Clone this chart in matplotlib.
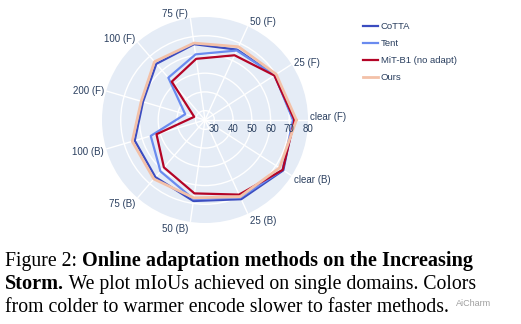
import matplotlib.pyplot as plt
import numpy as np

# mIoU per domain (radial axis) for each method
categories = ['clear (F)', '25 (F)', '50 (F)', '75 (F)', '100 (F)', '200 (F)',
              '100 (B)', '75 (B)', '50 (B)', '25 (B)', 'clear (B)']
cotta = [72.3, 69.3, 66.3, 65.9, 64.7, 59.5, 64.1, 65.4, 68.7, 71.5, 74.7]
tent = [72.0, 69.2, 65.8, 60.4, 54.9, 36.0, 55.2, 61.3, 67.7, 70.5, 74.2]
mit_b1 = [72.8, 69.0, 63.0, 58.0, 52.1, 31.0, 52.0, 58.5, 64.6, 68.8, 74.3]
ours = [73.8, 70.2, 68.0, 66.5, 66.2, 60.5, 65.5, 66.7, 67.0, 70.0, 72.3]
radial_ticks = [30, 40, 50, 60, 70, 80]

series = [
    ('CoTTA', cotta, '#3b4cc0', 1.6),
    ('Tent', tent, '#6a8bef', 1.6),
    ('MiT-B1 (no adapt)', mit_b1, '#b40426', 1.6),
    ('Ours', ours, '#f3c1a8', 2.0),
]

txt_color = '#2a3f5f'
plt.rcParams['font.family'] = ['Liberation Sans', 'DejaVu Sans']

W, H = 521, 324
fig = plt.figure(figsize=(W / 100, H / 100), dpi=100)
cx, cy, R = 205, 120, 103
ax = fig.add_axes([(cx - R) / W, 1 - (cy + R) / H, 2 * R / W, 2 * R / H],
                  projection='polar')

n = len(categories)
angles = np.arange(n) * 2 * np.pi / n

ax.set_facecolor('#e5ecf6')
ax.spines['polar'].set_visible(False)
ax.set_ylim(25, 80)
ax.set_xticks(angles)
ax.set_xticklabels([])
ax.set_yticks(radial_ticks[:-1])
ax.set_yticklabels([])
ax.tick_params(length=0)
ax.grid(color='white', lw=1)

for name, vals, col, lw in series:
    ax.plot(np.append(angles, angles[0]), np.append(vals, vals[0]),
            color=col, lw=lw, label=name)

# category labels around the outside
for a, cat in zip(angles, categories):
    c, s = np.cos(a), np.sin(a)
    ha = 'left' if c > 0 else 'right'
    dy = 6 * s - 1.5 if abs(s) > 0.01 else 2.5
    ax.annotate(cat, xy=(a, 80), xytext=(2 * np.sign(c), dy),
                textcoords='offset pixels', ha=ha, va='center',
                fontsize=7, color=txt_color, annotation_clip=False)

# radial tick labels along the 0 degree spoke
for v in radial_ticks:
    ax.annotate(str(v), xy=(0, v), xytext=(0, -8.5), textcoords='offset pixels',
                ha='center', va='center', fontsize=7, color=txt_color,
                annotation_clip=False)

fig.legend(loc='upper left', bbox_to_anchor=(363 / W, 1 - 22 / H),
           frameon=False, fontsize=6.8, borderpad=0, borderaxespad=0,
           handlelength=1.6, handletextpad=0.3, labelspacing=0.85,
           labelcolor=txt_color)

# caption with mixed bold / regular runs
cap = dict(family=['Liberation Serif', 'DejaVu Serif'],
           va='baseline', color='black')
sizes = {'normal': 14.2, 'bold': 14.6}
lines = [
    [('Figure 2: ', 'normal'),
     ('Online adaptation methods on the Increasing', 'bold')],
    [('Storm.', 'bold'),
     (' We plot mIoUs achieved on single domains. Colors', 'normal')],
    [('from colder to warmer encode slower to faster methods.', 'normal')],
]
baselines = [266, 289, 312]
renderer = fig.canvas.get_renderer()
for runs, yb in zip(lines, baselines):
    x = 5
    for s, weight in runs:
        t = fig.text(x / W, 1 - yb / H, s, fontweight=weight,
                     fontsize=sizes[weight], **cap)
        x = t.get_window_extent(renderer).x1

fig.text(456 / W, 1 - 303 / H, 'AiCharm', fontsize=6.5, color='#a0a0a0',
         va='center')

fig.savefig('out.png', dpi=100)
